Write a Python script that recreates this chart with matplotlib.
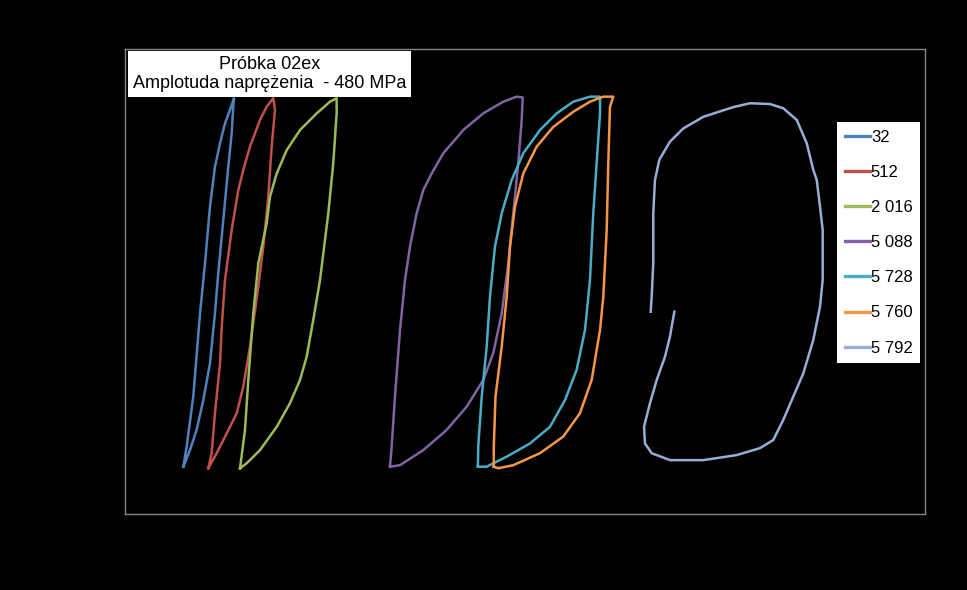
import matplotlib
matplotlib.use("Agg")
import matplotlib.pyplot as plt

plt.rcParams['font.family'] = ['Liberation Sans', 'DejaVu Sans']

# ---- data (strain, stress [MPa]) ----
x_32 = [-0.00344, -0.00306, -0.00232, -0.00156, -0.00100, -0.00044, 0.00012, 0.00069, 0.00125, 0.00181, 0.00226,
        0.00218, 0.00200, 0.00162, 0.00106, 0.00049, 0.00012, -0.00044, -0.00119, -0.00194, -0.00269, -0.00344]
y_32 = [-478, -426, -297, -82, 47, 193, 296, 357, 408, 443, 473,
        451, 382, 296, 159, 21, -82, -211, -306, -383, -435, -478]

x_512 = [-0.00063, -0.00025, 0.00012, 0.00069, 0.00088, 0.00125, 0.00200, 0.00275, 0.00331, 0.00406, 0.00519, 0.00594, 0.00668,
         0.00687, 0.00650, 0.00612, 0.00556, 0.00500, 0.00406, 0.00331, 0.00257, 0.00144, 0.00032, -0.00063]
y_512 = [-482, -443, -340, -211, -117, 4, 133, 236, 288, 348, 417, 451, 473,
         443, 348, 219, 90, -13, -168, -271, -340, -392, -443, -482]

x_2016 = [0.00294, 0.00350, 0.00387, 0.00443, 0.00500, 0.00594, 0.00631, 0.00707, 0.00819, 0.00969, 0.01157, 0.01306, 0.01381,
          0.01381, 0.01343, 0.01287, 0.01194, 0.01118, 0.01044, 0.00969, 0.00856, 0.00707, 0.00519, 0.00369, 0.00294]
y_2016 = [-482, -383, -254, -82, 47, 150, 219, 279, 339, 391, 434, 464, 473,
          434, 305, 176, 4, -99, -194, -254, -314, -375, -435, -469, -482]

x_5088 = [0.01981, 0.02000, 0.02037, 0.02094, 0.02150, 0.02206, 0.02281, 0.02356, 0.02450, 0.02581, 0.02806, 0.03031, 0.03256,
          0.03406, 0.03474, 0.03463, 0.03424, 0.03368, 0.03312, 0.03238, 0.03143, 0.03031, 0.02844, 0.02619, 0.02356,
          0.02094, 0.01981]
y_5088 = [-478, -426, -297, -125, 4, 90, 176, 236, 279, 331, 391, 434, 464,
          477, 475, 417, 305, 176, 47, -82, -185, -254, -323, -383, -435,
          -474, -478]

x_5728 = [0.02970, 0.02974, 0.03013, 0.03069, 0.03106, 0.03162, 0.03238, 0.03350, 0.03481, 0.03669, 0.03857, 0.04043, 0.04231,
          0.04344, 0.04344, 0.04306, 0.04268, 0.04231, 0.04175, 0.04081, 0.03950, 0.03781, 0.03556, 0.03294, 0.03069, 0.02970]
y_5728 = [-478, -426, -297, -168, -39, 90, 176, 262, 331, 391, 434, 464, 477,
          477, 434, 305, 176, 4, -125, -228, -306, -375, -418, -452, -478, -478]

x_5760 = [0.03149, 0.03149, 0.03168, 0.03238, 0.03294, 0.03331, 0.03387, 0.03481, 0.03631, 0.03818, 0.04043, 0.04231, 0.04381,
          0.04493, 0.04456, 0.04437, 0.04419, 0.04381, 0.04344, 0.04250, 0.04118, 0.03931, 0.03669, 0.03368, 0.03199, 0.03149]
y_5760 = [-478, -426, -297, -168, -39, 90, 193, 279, 348, 399, 438, 464, 477,
          477, 451, 305, 133, -39, -125, -254, -340, -400, -443, -474, -482, -478]

x_5792 = [0.05180, 0.05131, 0.05075, 0.04982, 0.04906, 0.04839, 0.04850, 0.04925, 0.05131, 0.05506, 0.05881, 0.06144, 0.06293,
          0.06406, 0.06518, 0.06631, 0.06743, 0.06819, 0.06849, 0.06849, 0.06819, 0.06782, 0.06743, 0.06669, 0.06557,
          0.06406, 0.06256, 0.06031, 0.05843, 0.05506, 0.05281, 0.05131, 0.05011, 0.04962, 0.04943, 0.04943, 0.04925, 0.04914]
y_5792 = [-78, -142, -194, -254, -314, -375, -418, -443, -461, -461, -448, -430, -409,
          -357, -297, -237, -151, -65, 4, 133, 193, 262, 288, 357, 417,
          447, 458, 460, 450, 425, 395, 361, 314, 262, 176, 47, -39, -78]

series_labels = ['32', '512', '2 016', '5 088', '5 728', '5 760', '5 792']
series_x = [x_32, x_512, x_2016, x_5088, x_5728, x_5760, x_5792]
series_y = [y_32, y_512, y_2016, y_5088, y_5728, y_5760, y_5792]
colors = ['#4F81BD', '#C0504D', '#9BBB59', '#8064A2', '#4BACC6', '#F79646', '#98AED6']

x_ticks = [-0.01, 0, 0.01, 0.02, 0.03, 0.04, 0.05, 0.06, 0.07, 0.08]
x_tick_labels = ['-0,01', '0', '0,01', '0,02', '0,03', '0,04', '0,05', '0,06', '0,07', '0,08']
y_ticks = [-600, -400, -200, 0, 200, 400, 600]
y_tick_labels = ['-600', '-400', '-200', '0', '200', '400', '600']

title_text = 'Próbka 02ex\nAmplotuda naprężenia  - 480 MPa'
x_label = 'Odkształcenie'
y_label = 'Naprężenia [MPa]'

# ---- figure ----
fig = plt.figure(figsize=(9.67, 5.90), dpi=100, facecolor='black')
ax = fig.add_axes([125/967, 1 - 514/590, 800/967, 465/590])
ax.set_facecolor('black')

for xs, ys, c, lab in zip(series_x, series_y, colors, series_labels):
    ax.plot(xs, ys, color=c, lw=1.8, label=lab, solid_joinstyle='round')

ax.set_xlim(-0.01, 0.08)
ax.set_ylim(-600, 600)
ax.set_xticks(x_ticks)
ax.set_xticklabels(x_tick_labels)
ax.set_yticks(y_ticks)
ax.set_yticklabels(y_tick_labels)
ax.tick_params(axis='both', colors='black', labelcolor='black', labelsize=12,
               length=4, direction='out', pad=8)
for sp in ax.spines.values():
    sp.set_color('#868686')
    sp.set_linewidth(1.0)

ax.set_xlabel(x_label, color='black', fontsize=13, labelpad=6)
ax.set_ylabel(y_label, color='black', fontsize=13, labelpad=14)

ax.text(0.1806, 0.946, title_text, transform=ax.transAxes, ha='center', va='center',
        fontsize=13, color='black', linespacing=1.12,
        bbox=dict(boxstyle='square,pad=0.27', facecolor='white', edgecolor='none'))

leg = ax.legend(loc='upper right', bbox_to_anchor=(0.994, 0.843), fontsize=12,
                frameon=True, fancybox=False, framealpha=1, facecolor='white',
                edgecolor='none', handlelength=1.5, handletextpad=0.05,
                labelspacing=1.21, borderpad=0.45, borderaxespad=0)
for t in leg.get_texts():
    t.set_color('black')
for h in leg.get_lines():
    h.set_linewidth(2.4)

fig.savefig('out.png', dpi=100, facecolor='black')
